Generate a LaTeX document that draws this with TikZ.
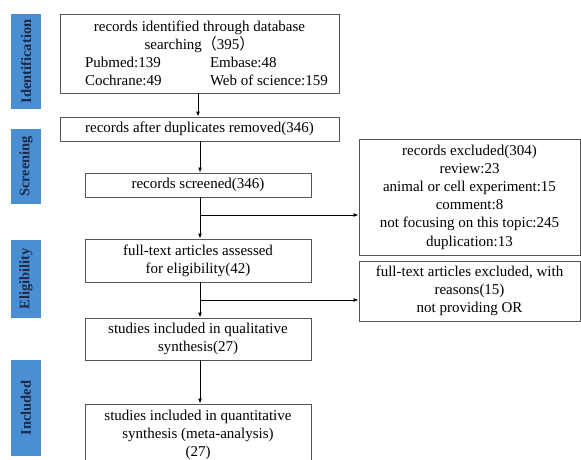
\documentclass[tikz,border=0pt]{standalone}
\usepackage{fontspec}
\setmainfont{Liberation Serif}
\newfontfamily\cjk{Noto Sans CJK SC}
\usetikzlibrary{arrows.meta}
\definecolor{barblue}{HTML}{4A8FD4}
\definecolor{barnavy}{HTML}{1C2A48}
\definecolor{boxgray}{HTML}{555555}

\begin{document}
\begin{tikzpicture}[x=1pt,y=-1pt,font=\fontsize{15}{18.2}\selectfont,
  box/.style={draw=boxgray,line width=0.9pt,align=center,inner sep=0pt},
  phase/.style={fill=barblue,text=barnavy,font=\fontsize{14.5}{17}\selectfont\bfseries,rotate=90,inner sep=0pt,minimum height=30pt},
  arr/.style={line width=0.9pt,-{Latex[length=5pt,width=4pt]}}]

\useasboundingbox (0,0) rectangle (581,459);
\clip (0,0) rectangle (581,459);

% phases
\node[phase,minimum width=95pt] (pid) at (26,61.5) {Identification};
\node[phase,minimum width=75pt] (pscr) at (26,166.5) {Screening};
\node[phase,minimum width=78pt] (pelig) at (26,279) {Eligibility};
\node[phase,minimum width=96pt] (pincl) at (26,408) {Included};

% main column
\node[box,minimum width=279pt,minimum height=79pt] (ident) at (199.5,53.5) {records identified through database\\
searching{\cjk （}395{\cjk ）}\\
\hspace*{14pt}\makebox[125pt][l]{Pubmed:139}\makebox[118pt][l]{Embase:48}\\
\hspace*{14pt}\makebox[125pt][l]{Cochrane:49}\makebox[118pt][l]{Web of science:159}};
\node[box,minimum width=279pt,minimum height=24pt] (dedup) at (199.5,129) {records after duplicates removed(346)};
\node[box,minimum width=226pt,minimum height=24pt] (screen) at (198,185) {records screened(346)};
\node[box,minimum width=226pt,minimum height=43pt] (full) at (198,260.5) {full-text articles assessed\\for eligibility(42)};
\node[box,minimum width=226pt,minimum height=42pt] (qual) at (198,339) {studies included in qualitative\\synthesis(27)};
\node[box,minimum width=226pt,minimum height=62pt] (quant) at (198,435) {studies included in quantitative\\synthesis (meta-analysis)\\(27)};

% side boxes
\node[box,minimum width=221pt,minimum height=116pt] (excl) at (469.5,197) {records excluded(304)\\review:23\\animal or cell experiment:15\\comment:8\\not focusing on this topic:245\\duplication:13};
\node[box,minimum width=221pt,minimum height=60pt] (exfull) at (469.5,291) {full-text articles excluded, with\\reasons(15)\\not providing OR};

\coordinate (b1) at (screen.south |- 0,215);
\coordinate (b2) at (full.south |- 0,300);

\draw[arr] (ident.south -| 198,0) -- (dedup.north -| 198,0);
\draw[arr] (dedup.south -| 200,0) -- (screen.north -| 200,0);
\draw[arr] (screen.south -| 200,0) -- (full.north -| 200,0);
\draw[arr] (full.south -| 200,0) -- (qual.north -| 200,0);
\draw[arr] (qual.south -| 200,0) -- (quant.north -| 200,0);
\draw[arr] (b1 -| 200,0) -- (b1 -| excl.west);
\draw[arr] (b2 -| 200,0) -- (b2 -| exfull.west);

\end{tikzpicture}
\end{document}
